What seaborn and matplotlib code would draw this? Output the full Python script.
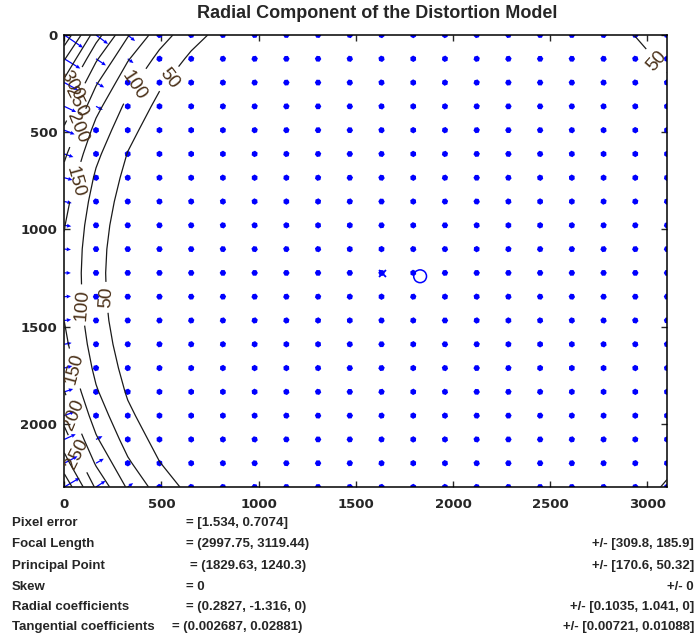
import numpy as np
import matplotlib
matplotlib.use("Agg")
import matplotlib.pyplot as plt
import seaborn as sns
import pandas as pd

# ---- data (calibration results shown in the chart) ----
image_size = [3264, 2448]            # nx, ny
focal_length = [2997.75, 3119.44]
principal_point = [1829.63, 1240.3]
radial_coeffs = [0.2827, -1.316, 0.0]
contour_levels = [50, 100, 150, 200, 250, 300, 350, 400, 450]
x_ticks = [0, 500, 1000, 1500, 2000, 2500, 3000]
y_ticks = [0, 500, 1000, 1500, 2000]
info_labels = ["Pixel error", "Focal Length", "Principal Point", "Skew",
               "Radial coefficients", "Tangential coefficients"]
info_values = ["= [1.534, 0.7074]", "= (2997.75, 3119.44)", "= (1829.63, 1240.3)",
               "= 0", "= (0.2827, -1.316, 0)", "= (0.002687, 0.02881)"]
info_errors = ["", "+/- [309.8, 185.9]", "+/- [170.6, 50.32]", "+/- 0",
               "+/- [0.1035, 1.041, 0]", "+/- [0.00721, 0.01088]"]
title = "Radial Component of the Distortion Model"

sns.set_theme(style="white")
plt.rcParams["font.family"] = ["Liberation Sans", "DejaVu Sans"]

W, H = 698, 642
fig = plt.figure(figsize=(W / 100, H / 100), dpi=100)
L, R, T, B = 64.3, 667.0, 35.0, 487.0
ax = fig.add_axes([L / W, 1 - B / H, (R - L) / W, (B - T) / H])

nx, ny = image_size
gx = np.arange(20) * nx / 20
gy = np.arange(20) * ny / 20
X, Y = np.meshgrid(gx, gy)
xn = (X - principal_point[0]) / focal_length[0]
yn = (Y - principal_point[1]) / focal_length[1]
r2 = xn ** 2 + yn ** 2
rad = radial_coeffs[0] * r2 + radial_coeffs[1] * r2 ** 2 + radial_coeffs[2] * r2 ** 3
DX = focal_length[0] * xn * rad
DY = focal_length[1] * yn * rad
DR = np.sqrt(DX ** 2 + DY ** 2)

ax.quiver(X, Y, DX, DY, angles="xy", scale_units="xy", scale=4.2, color="#0000ff",
          units="dots", width=1.25, headwidth=3.2, headlength=3.5, headaxislength=3.2,
          minlength=5.2, minshaft=1.5, zorder=2)

cs = ax.contour(X, Y, DR, levels=contour_levels, colors="k", linewidths=0.9, zorder=3)

def px2data(px, py):
    return ((px - L) / (R - L) * gx[-1], (py - T) / (B - T) * gy[-1])

label_px = [(168, 78), (133, 85), (76, 182), (78, 128), (72, 100), (70, 84),
            (110, 297), (83, 305), (80, 367), (80, 412), (75, 455),
            (655, 62)]
ax.clabel(cs, fmt="%d", fontsize=13.5, inline=True, colors="#4a3018",
          manual=[px2data(*p) for p in label_px])

markers = pd.DataFrame({"x": [principal_point[0] + 1], "y": [principal_point[1] + 1]})
sns.scatterplot(data=markers, x="x", y="y", ax=ax, marker="o", s=85,
                facecolor="none", edgecolor="#0000ff", linewidth=1.1, zorder=4)
center = pd.DataFrame({"x": [(nx - 1) / 2 + 1], "y": [(ny - 1) / 2 + 1]})
sns.scatterplot(data=center, x="x", y="y", ax=ax, marker="x", s=25,
                color="#0000ff", linewidth=1.3, zorder=4)

ax.set_xlim(0, gx[-1])
ax.set_ylim(gy[-1], 0)
ax.set_xlabel("")
ax.set_ylabel("")
ax.set_xticks(x_ticks)
ax.set_yticks(y_ticks)
ax.tick_params(axis="x", pad=8)
ax.tick_params(axis="y", pad=5)
ax.tick_params(direction="in", length=4, width=1, top=True, right=True,
               bottom=True, left=True, labelsize=9.5)
for lab in ax.get_xticklabels() + ax.get_yticklabels():
    lab.set_fontweight("bold")
    lab.set_family("DejaVu Sans")
for s in ax.spines.values():
    s.set_visible(True)
    s.set_color("black")
    s.set_linewidth(1.1)

fig.text(377 / W, 1 - 14 / H, title, ha="center", va="center",
         fontsize=13, fontweight="bold")

row_y = [523, 544, 566, 587, 607, 627]
eq_x = [186, 186, 190, 186, 186, 172]
for lab, val, err, yy, ex in zip(info_labels, info_values, info_errors, row_y, eq_x):
    fig.text(12 / W, 1 - yy / H, lab, ha="left", va="center", fontsize=9.5, fontweight="bold")
    fig.text(ex / W, 1 - yy / H, val, ha="left", va="center", fontsize=9.5, fontweight="bold")
    if err:
        fig.text(694 / W, 1 - yy / H, err, ha="right", va="center", fontsize=9.5,
                 fontweight="bold")

fig.savefig("out.png", dpi=100)
